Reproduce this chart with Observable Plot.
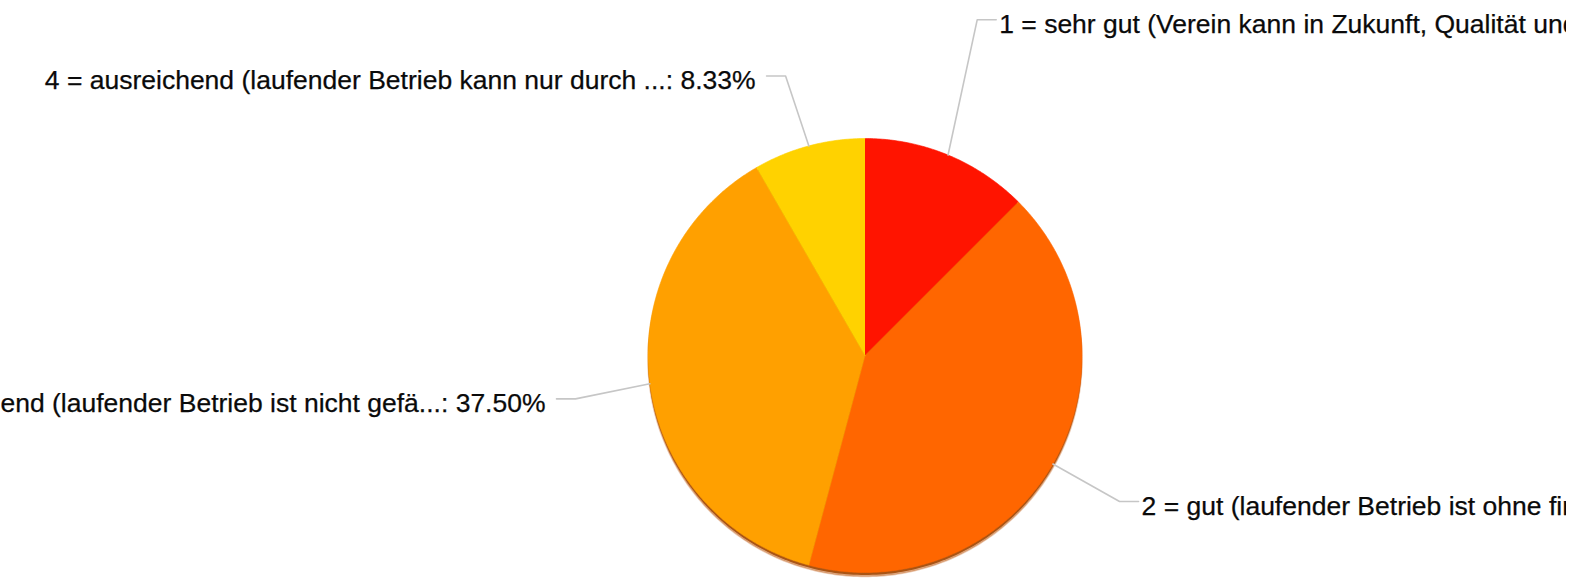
<!DOCTYPE html>
<html><head><meta charset="utf-8">
<script src="https://cdn.jsdelivr.net/npm/d3@7"></script>
<script src="https://cdn.jsdelivr.net/npm/@observablehq/plot@0.6"></script>
<style>
html,body{margin:0;padding:0;background:#fff;overflow:hidden}
svg{overflow:hidden;display:block}
</style></head><body><div id="chart"></div>
<script>
// ---- data ----
const categories = [
  "1 = sehr gut (Verein kann in Zukunft, Qualität und...",
  "2 = gut (laufender Betrieb ist ohne finanzielle Pr...",
  "3 = befriedigend (laufender Betrieb ist nicht gefä...",
  "4 = ausreichend (laufender Betrieb kann nur durch ..."
];
const values = [12.5, 41.67, 37.5, 8.33];
const percentLabels = ["12.50%", "41.67%", "37.50%", "8.33%"];
const colors = ["#ff1400", "#ff6600", "#ffa000", "#ffd200"];
// label layout in unit-radius coordinates (bend point of each leader) and side
const labelBendX = [0.517, 1.173, -1.334, -0.366];
const labelBendY = [1.547, -0.673, -0.200, 1.288];
const labelSide = [1, 1, -1, -1];

// ---- geometry ----
const W = 1566, H = 578;
const cx = 864.5, cy = 355, R = 217;
const arm = 19 / R;

const arcs = d3.pie().sort(null).value(d => d.value)(
  categories.map((c, i) => ({category: c, value: values[i], i}))
);

const slicePts = [];
for (const a of arcs) {
  const c = a.data.category;
  slicePts.push({x: 0, y: 0, category: c});
  const n = Math.max(4, Math.ceil((a.endAngle - a.startAngle) / 0.01));
  for (let k = 0; k <= n; k++) {
    const t = a.startAngle + (a.endAngle - a.startAngle) * k / n;
    slicePts.push({x: Math.sin(t), y: Math.cos(t), category: c});
  }
}
const circlePts = d3.range(0, 361).map(d => {
  const t = d * Math.PI / 180;
  return {x: Math.sin(t), y: Math.cos(t), g: "shadow"};
});

const leaderPts = [];
const labels = [];
arcs.forEach((a, i) => {
  const m = (a.startAngle + a.endAngle) / 2;
  const bx = labelBendX[i], by = labelBendY[i], s = labelSide[i];
  leaderPts.push({x: Math.sin(m), y: Math.cos(m), i});
  leaderPts.push({x: bx, y: by, i});
  leaderPts.push({x: bx + s * arm, y: by, i});
  labels.push({x: bx + s * arm, y: by, side: s,
               text: categories[i] + ": " + percentLabels[i]});
});

const textStyle = {fontSize: 26.5, fontFamily: "Liberation Sans, Arial, sans-serif",
  fill: "#0a0a0a", stroke: "#0a0a0a", strokeWidth: 0.25};

const chart = Plot.plot({
  width: W, height: H,
  margin: 0,
  style: {background: "#fff"},
  x: {type: "linear", domain: [-1, 1], range: [cx - R, cx + R], axis: null},
  y: {type: "linear", domain: [-1, 1], range: [cy + R, cy - R], axis: null},
  color: {type: "ordinal", domain: categories, range: colors},
  marks: [
    Plot.line(circlePts, {x: "x", y: "y", z: "g", fill: "#c05a10", fillOpacity: 0.5,
      stroke: "#c05a10", strokeOpacity: 0.3, strokeWidth: 1.5, dy: 4}),
    Plot.line(circlePts, {x: "x", y: "y", z: "g", fill: "#a04400", fillOpacity: 0.85,
      stroke: "none", dy: 2.5}),
    Plot.line(slicePts, {x: "x", y: "y", z: "category", fill: "category",
      stroke: "category", strokeWidth: 0.6}),
    Plot.line(leaderPts, {x: "x", y: "y", z: "i", stroke: "#c6c6c6", strokeWidth: 1.6}),
    Plot.text(labels.filter(d => d.side > 0), {x: "x", y: "y", text: "text",
      textAnchor: "start", dx: 3, dy: 5, ...textStyle}),
    Plot.text(labels.filter(d => d.side < 0), {x: "x", y: "y", text: "text",
      textAnchor: "end", dx: -11, dy: 5, ...textStyle})
  ]
});
document.getElementById("chart").appendChild(chart);
</script></body></html>
